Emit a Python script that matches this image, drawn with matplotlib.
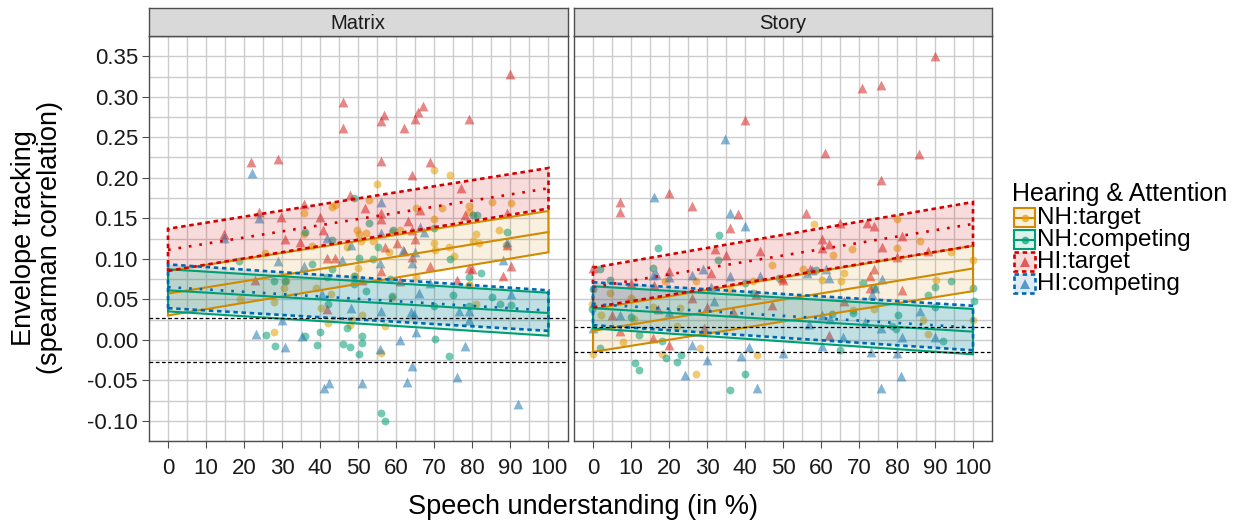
import numpy as np
import matplotlib
matplotlib.use("Agg")
import matplotlib.pyplot as plt
from matplotlib.patches import Rectangle, Polygon

plt.rcParams['font.family'] = ['Liberation Sans', 'DejaVu Sans']

panels = ["Matrix", "Story"]
groups = ["NH:target", "NH:competing", "HI:target", "HI:competing"]

# ---- points (speech understanding %, envelope tracking) ----
matrix_nh_target = [
    (70, 0.209), (74, 0.203), (55, 0.192), (52.9, 0.173), (43, 0.164), (43.9, 0.166), (35.7, 0.156),
    (65.1, 0.163), (71.9, 0.163), (85.1, 0.170), (90.1, 0.169), (79, 0.165), (79.2, 0.158), (70, 0.149),
    (49.8, 0.136), (50.1, 0.131), (52.1, 0.132), (61, 0.136), (58.8, 0.133), (81, 0.131), (87, 0.135),
    (35.8, 0.130), (37.8, 0.116), (50.7, 0.122), (54, 0.122), (70, 0.119), (73.8, 0.115), (80.1, 0.122),
    (81.8, 0.120), (25.6, 0.107), (18.8, 0.050), (27.8, 0.047), (30.9, 0.072), (30.5, 0.064), (38.8, 0.064),
    (42.8, 0.056), (40.2, 0.039), (49.1, 0.079), (47, 0.115), (58.1, 0.108), (70.2, 0.111), (75.2, 0.104),
    (88.8, 0.117), (65.1, 0.078), (79.2, 0.068), (51.1, 0.030), (42, 0.021), (47.9, 0.018), (48.3, 0.024),
    (56.9, 0.017), (27.9, 0.009), (55.9, -0.016), (79, 0.067), (81, 0.044), (59, 0.052), (50, 0.089)]
matrix_nh_competing = [
    (48.9, 0.175), (52.8, 0.144), (35.9, 0.133), (55.1, 0.115), (59.1, 0.135), (70, 0.138), (80.1, 0.154),
    (81.2, 0.154), (89.1, 0.133), (18.7, 0.097), (37.9, 0.094), (27.9, 0.072), (43.2, 0.087), (41.9, 0.078),
    (42.1, 0.044), (48.9, 0.069), (50.3, 0.101), (53.9, 0.100), (74.1, 0.100), (79.2, 0.078), (82.2, 0.083),
    (52, 0.060), (58.3, 0.075), (75, 0.055), (85.1, 0.053), (90.1, 0.043), (87.2, 0.044), (79.1, 0.042),
    (70, 0.042), (59, 0.054), (30.8, 0.072), (48.9, 0.079), (43, 0.123), (25.8, 0.006), (28, -0.008),
    (36, 0.005), (39.1, -0.006), (40, 0.009), (46, -0.005), (47.9, -0.009), (47, 0.014), (50.9, 0.005),
    (51.1, -0.004), (50.1, -0.017), (70.1, 0.001), (73.9, -0.020), (56, -0.090), (56.9, -0.100)]
matrix_hi_target = [
    (89.9, 0.328), (46.1, 0.293), (46.1, 0.261), (56.8, 0.278), (55.9, 0.270), (66.9, 0.289), (65.8, 0.281),
    (64.9, 0.272), (61.9, 0.261), (79, 0.272), (21.9, 0.219), (28.9, 0.223), (55.9, 0.221), (68.9, 0.220),
    (64.1, 0.204), (47.8, 0.179), (77, 0.187), (35.7, 0.168), (51.9, 0.163), (23.8, 0.158), (29.8, 0.152),
    (39.9, 0.152), (55.9, 0.156), (55.9, 0.149), (66.1, 0.160), (78.1, 0.154), (89, 0.156), (63, 0.146),
    (40.8, 0.136), (14.7, 0.131), (30.7, 0.124), (34.8, 0.121), (64, 0.135), (64.9, 0.125), (57, 0.115),
    (60.1, 0.119), (89, 0.117), (61.9, 0.109), (64, 0.102), (68.9, 0.091), (79.2, 0.089), (80, 0.087),
    (90.1, 0.091), (88.1, 0.079), (55.9, 0.085), (61, 0.072), (75.9, 0.074), (51.1, 0.074), (41.8, 0.101),
    (43.9, 0.101), (22.8, 0.074), (41.9, 0.038)]
matrix_hi_competing = [
    (22, 0.206), (55.9, 0.170), (23.8, 0.150), (14.8, 0.126), (41.9, 0.126), (56, 0.132), (66.1, 0.139),
    (67.2, 0.133), (89.1, 0.121), (28.9, 0.097), (35.7, 0.091), (45.8, 0.099), (48.1, 0.117), (40.6, 0.056),
    (48, 0.039), (61.7, 0.111), (64, 0.095), (65, 0.108), (88.1, 0.099), (66, 0.058), (68.9, 0.070),
    (76.4, 0.036), (79.2, 0.036), (90.1, 0.057), (63.9, 0.034), (64.7, 0.032), (55.9, 0.036), (55.7, 0.095),
    (29.9, 0.024), (55.7, -0.011), (23, 0.007), (35.1, 0.005), (30.7, -0.009), (61, 0.000), (65.3, 0.009),
    (78.1, -0.008), (64.1, -0.033), (75.9, -0.046), (62.9, -0.052), (51.1, -0.054), (42.2, -0.053),
    (41, -0.060), (92.1, -0.079), (79.2, 0.025)]

story_nh_target = [
    (58.1, 0.143), (80.1, 0.149), (86, 0.122), (68.2, 0.112), (80.1, 0.113), (19, 0.073), (27.1, 0.072),
    (47, 0.092), (42, 0.072), (4.5, 0.058), (-0.2, 0.044), (10.1, 0.051), (22.9, 0.039), (36.1, 0.063),
    (2.2, 0.030), (100, 0.099), (94.1, 0.108), (63.2, 0.105), (60.2, 0.074), (65.2, 0.072), (66, 0.083),
    (90.2, 0.074), (73.9, 0.038), (68.5, 0.037), (88.2, 0.007), (86.9, 0.025), (100, 0.025), (0, -0.018),
    (8, -0.003), (18.1, -0.018), (28.2, -0.010), (27.1, -0.042), (43.1, -0.019), (22.1, 0.017), (55.3, 0.087),
    (15.8, 0.041), (10.9, 0.026)]
story_nh_competing = [
    (33.2, 0.129), (17.1, 0.113), (33, 0.099), (15.9, 0.089), (4.5, 0.074), (0.1, 0.063), (-0.3, 0.038),
    (48.9, 0.076), (42.2, 0.058), (1.9, 0.087), (10.1, 0.028), (12, 0.006), (11.1, -0.029), (12.2, -0.037),
    (18.1, -0.001), (19.3, -0.022), (22.1, -0.028), (23.2, -0.019), (36.1, -0.062), (40, -0.042), (40, 0.070),
    (58.7, 0.086), (71.1, 0.070), (73.9, 0.064), (80.3, 0.030), (79.7, 0.013), (88.2, 0.055), (94.1, 0.072),
    (100, 0.064), (100.2, 0.048), (90.1, 0.041), (78.8, 0.017), (65, -0.013), (68.3, 0.033), (90.1, 0.065),
    (63, 0.032), (1.9, -0.010), (92.1, -0.002)]
story_hi_target = [
    (89.9, 0.350), (70.9, 0.311), (75.9, 0.314), (40, 0.271), (61, 0.230), (85.8, 0.229), (75.9, 0.197),
    (7, 0.170), (7, 0.158), (20.1, 0.181), (26.1, 0.165), (38.1, 0.155), (36.1, 0.138), (56, 0.156),
    (65, 0.144), (72, 0.144), (74, 0.140), (81.2, 0.128), (60.2, 0.124), (-0.1, 0.089), (20.1, 0.085),
    (31.1, 0.083), (32, 0.112), (35, 0.105), (44, 0.109), (49.7, 0.076), (16.1, 0.067), (10.1, 0.070),
    (47, 0.043), (30, 0.040), (17.2, 0.038), (5, 0.030), (42.8, 0.056), (62.2, 0.118), (76.1, 0.114),
    (88.2, 0.110), (50.1, 0.074), (73, 0.079), (73.9, 0.087), (81.2, 0.061), (26, 0.051), (7, 0.011),
    (20.1, -0.006), (36.9, 0.035), (66, 0.048), (62.2, 0.006), (29.1, 0.015), (60.2, 0.113), (80.1, 0.102),
    (72.9, 0.064), (57.1, 0.087), (15.9, 0.002)]
story_hi_competing = [
    (34.8, 0.248), (16.1, 0.176), (36.1, 0.157), (40, 0.141), (16.6, 0.081), (15.7, 0.080), (20.1, 0.078),
    (26, 0.080), (28.9, 0.087), (36.1, 0.079), (44, 0.079), (31, 0.065), (31.9, 0.048), (7, 0.030),
    (19.9, 0.034), (56.4, 0.083), (57.5, 0.086), (61.3, 0.087), (73.3, 0.056), (76.1, 0.075), (60.2, 0.030),
    (62.3, 0.026), (56.9, 0.020), (75.9, 0.014), (81.2, 0.003), (86, 0.036), (90.1, 0.003), (71.5, 0.022),
    (65.9, 0.003), (0, 0.014), (26, -0.006), (41.1, -0.009), (39, -0.020), (50.1, -0.016), (60.2, -0.008),
    (73.1, -0.015), (80.1, -0.016), (30, -0.025), (24.3, -0.044), (43.2, -0.059), (75.9, -0.059),
    (81, -0.045), (62.2, 0.076), (74.2, 0.064)]

# ---- fitted lines: value at x = 0 and x = 100 (lower, fit, upper) ----
fit_x = [0, 100]
matrix_fits = {
    "NH:target":    ([0.030, 0.108], [0.057, 0.133], [0.085, 0.159]),
    "NH:competing": ([0.035, 0.005], [0.061, 0.033], [0.087, 0.058]),
    "HI:target":    ([0.085, 0.162], [0.111, 0.187], [0.137, 0.212]),
    "HI:competing": ([0.039, 0.011], [0.065, 0.036], [0.093, 0.061]),
}
story_fits = {
    "NH:target":    ([-0.015, 0.060], [0.011, 0.088], [0.038, 0.116]),
    "NH:competing": ([0.014, -0.018], [0.039, 0.010], [0.066, 0.038]),
    "HI:target":    ([0.040, 0.116], [0.065, 0.143], [0.089, 0.170]),
    "HI:competing": ([0.018, -0.013], [0.044, 0.015], [0.071, 0.042]),
}
chance_level = [0.027, 0.0155]

point_colors = {"NH:target": "#E69F00", "NH:competing": "#009E73",
                "HI:target": "#D62424", "HI:competing": "#1F78B4"}
line_colors = {"NH:target": "#D18A00", "NH:competing": "#009E73",
               "HI:target": "#D40000", "HI:competing": "#0068B0"}
band_alpha = {"NH:target": 0.12, "NH:competing": 0.13, "HI:target": 0.14, "HI:competing": 0.13}

points = {
    "Matrix": {"NH:target": matrix_nh_target, "NH:competing": matrix_nh_competing,
               "HI:target": matrix_hi_target, "HI:competing": matrix_hi_competing},
    "Story": {"NH:target": story_nh_target, "NH:competing": story_nh_competing,
              "HI:target": story_hi_target, "HI:competing": story_hi_competing},
}
fits = {"Matrix": matrix_fits, "Story": story_fits}

W, H = 1239, 523
fig = plt.figure(figsize=(W / 100, H / 100), dpi=100)


def px_box(x0, y0, x1, y1):
    return [x0 / W, 1 - y1 / H, (x1 - x0) / W, (y1 - y0) / H]


ax_boxes = [(149, 36, 567.5, 441), (574, 36, 992, 441)]
grid_c = "#CCCCCC"
dash_hi = (0, (1.7, 1.4))
dot_hi = (0, (1, 3.0))

for i, name in enumerate(panels):
    ax = fig.add_axes(px_box(*ax_boxes[i]))
    ax.set_xlim(-5, 105)
    ax.set_ylim(-0.122, 0.372)
    ax.set_xticks(np.arange(0, 101, 10))
    ax.set_xticks(np.arange(5, 101, 10), minor=True)
    ax.set_yticks(np.arange(-0.10, 0.351, 0.05))
    ax.set_yticks(np.arange(-0.125, 0.38, 0.05), minor=True)
    ax.grid(True, which="both", color=grid_c, lw=1.0, zorder=0)
    ax.set_axisbelow(True)
    for s in ax.spines.values():
        s.set_color("#4D4D4D")
        s.set_linewidth(1.0)
    ax.tick_params(axis="both", which="major", length=5, color="#4D4D4D", labelsize=16,
                   labelcolor="#1A1A1A", width=0.8)
    ax.tick_params(axis="x", which="major", pad=7)
    ax.tick_params(axis="y", which="major", pad=3)
    ax.tick_params(axis="both", which="minor", length=0)
    if i == 0:
        ax.set_yticklabels([f"{v:.2f}" for v in ax.get_yticks()])
    else:
        ax.tick_params(axis="y", which="major", length=0, labelleft=False)

    for g in groups:
        arr = np.array(points[name][g])
        mk = "o" if g.startswith("NH") else "^"
        sz = 32 if mk == "o" else 50
        ax.scatter(arr[:, 0], arr[:, 1], s=sz, marker=mk, color=point_colors[g],
                   alpha=0.55, linewidths=0, zorder=2)

    for g in groups:
        lo, mid, hi = fits[name][g]
        col = line_colors[g]
        is_hi = g.startswith("HI")
        lw = 1.9 if is_hi else 1.5
        poly = list(zip([fit_x[0], fit_x[1], fit_x[1], fit_x[0]], [lo[0], lo[1], hi[1], hi[0]]))
        ax.add_patch(Polygon(poly, closed=True, facecolor=col, alpha=band_alpha[g],
                             edgecolor="none", zorder=3))
        ax.add_patch(Polygon(poly, closed=True, facecolor="none", edgecolor=col, lw=lw,
                             ls=dash_hi if is_hi else "-", zorder=4))
        ax.plot(fit_x, mid, color=col, lw=lw, ls=dot_hi if is_hi else "-", zorder=4)

    for c in (chance_level[i], -chance_level[i]):
        ax.axhline(c, color="black", lw=0.9, ls=(0, (3, 2)), zorder=5)

    # facet strip
    sx0, _, sx1, _ = ax_boxes[i]
    sax = fig.add_axes(px_box(sx0, 8, sx1, 36))
    sax.set_xticks([])
    sax.set_yticks([])
    sax.set_facecolor("#D9D9D9")
    for s in sax.spines.values():
        s.set_color("#4D4D4D")
        s.set_linewidth(1.0)
    sax.text(0.5, 0.45, name, ha="center", va="center", fontsize=14.5, color="#1A1A1A",
             transform=sax.transAxes)

fig.text(37 / W, 1 - 238 / H, "Envelope tracking\n(spearman correlation)", rotation=90,
         ha="center", va="center", fontsize=19.5, linespacing=1.0, color="black")
fig.text(583 / W, 1 - 507 / H, "Speech understanding (in %)", ha="center", va="center",
         fontsize=19.5, color="black")

# legend drawn in pixel coordinates
lax = fig.add_axes([0, 0, 1, 1])
lax.set_xlim(0, W)
lax.set_ylim(H, 0)
lax.axis("off")
lax.text(1012, 194, "Hearing & Attention", ha="left", va="center", fontsize=18)
for k, g in enumerate(groups):
    top = 208 + k * 22
    col = line_colors[g]
    is_hi = g.startswith("HI")
    lax.add_patch(Rectangle((1014, top), 21, 19, facecolor=col, alpha=band_alpha[g],
                            edgecolor="none"))
    lax.add_patch(Rectangle((1014, top), 21, 19, facecolor="none", edgecolor=col,
                            lw=1.9 if is_hi else 1.5, ls=dash_hi if is_hi else "-"))
    if not is_hi:
        lax.plot([1014, 1035], [top + 9.5, top + 9.5], color=col, lw=1.5)
    lax.plot([1024.5], [top + 9.5], marker="^" if is_hi else "o", ms=7 if is_hi else 5.5,
             color=point_colors[g], alpha=0.7, mew=0)
    lax.text(1037, top + 10, g, ha="left", va="center", fontsize=17.5)

fig.savefig("out.png", dpi=100)
